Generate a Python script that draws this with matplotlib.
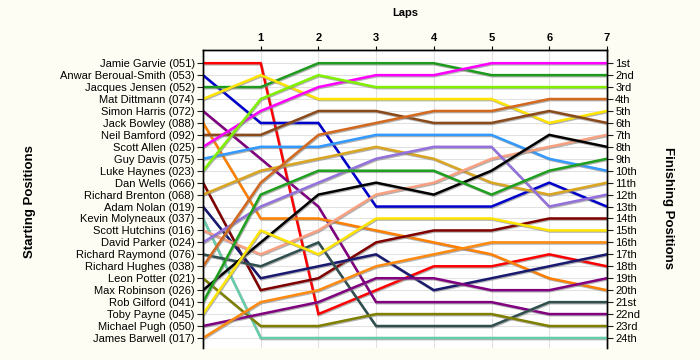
import matplotlib
matplotlib.use("Agg")
import matplotlib.pyplot as plt
import matplotlib.patheffects as pe

plt.rcParams['font.family'] = ['Liberation Sans', 'DejaVu Sans']

laps = [0, 1, 2, 3, 4, 5, 6, 7]
lap_labels = ["1", "2", "3", "4", "5", "6", "7"]

drivers = ["Jamie Garvie (051)", "Anwar Beroual-Smith (053)", "Jacques Jensen (052)",
           "Mat Dittmann (074)", "Simon Harris (072)", "Jack Bowley (088)",
           "Neil Bamford (092)", "Scott Allen (025)", "Guy Davis (075)",
           "Luke Haynes (023)", "Dan Wells (066)", "Richard Brenton (068)",
           "Adam Nolan (019)", "Kevin Molyneaux (037)", "Scott Hutchins (016)",
           "David Parker (024)", "Richard Raymond (076)", "Richard Hughes (038)",
           "Leon Potter (021)", "Max Robinson (026)", "Rob Gilford (041)",
           "Toby Payne (045)", "Michael Pugh (050)", "James Barwell (017)"]

jamie_garvie    = [1, 1, 22, 20, 18, 18, 17, 18]
anwar_beroual   = [2, 6, 6, 13, 13, 13, 11, 13]
jacques_jensen  = [3, 3, 1, 1, 1, 2, 2, 2]
mat_dittmann    = [4, 2, 4, 4, 4, 4, 6, 5]
simon_harris    = [5, 9, 13, 21, 21, 21, 22, 22]
jack_bowley     = [6, 14, 14, 15, 16, 17, 19, 20]
neil_bamford    = [7, 7, 5, 5, 6, 6, 5, 6]
scott_allen     = [8, 5, 3, 2, 2, 1, 1, 1]
guy_davis       = [9, 8, 8, 7, 7, 7, 9, 10]
luke_haynes     = [10, 4, 2, 3, 3, 3, 3, 3]
dan_wells       = [11, 20, 19, 16, 15, 15, 14, 14]
richard_brenton = [12, 10, 9, 8, 9, 11, 12, 11]
adam_nolan      = [13, 19, 18, 17, 20, 19, 18, 17]
kevin_molyneaux = [14, 24, 24, 24, 24, 24, 24, 24]
scott_hutchins  = [15, 17, 15, 12, 11, 9, 8, 7]
david_parker    = [16, 13, 11, 9, 8, 8, 13, 12]
richard_raymond = [17, 18, 16, 23, 23, 23, 21, 21]
richard_hughes  = [18, 11, 7, 6, 5, 5, 4, 4]
leon_potter     = [19, 23, 23, 22, 22, 22, 23, 23]
max_robinson    = [20, 16, 12, 11, 12, 10, 7, 8]
rob_gilford     = [21, 12, 10, 10, 10, 12, 10, 9]
toby_payne      = [22, 15, 17, 14, 14, 14, 15, 15]
michael_pugh    = [23, 22, 21, 19, 19, 20, 20, 19]
james_barwell   = [24, 21, 20, 18, 17, 16, 16, 16]

series = [jamie_garvie, anwar_beroual, jacques_jensen, mat_dittmann, simon_harris,
          jack_bowley, neil_bamford, scott_allen, guy_davis, luke_haynes, dan_wells,
          richard_brenton, adam_nolan, kevin_molyneaux, scott_hutchins, david_parker,
          richard_raymond, richard_hughes, leon_potter, max_robinson, rob_gilford,
          toby_payne, michael_pugh, james_barwell]

colors = ["#FF0000", "#0000CD", "#1E9B1E", "#FFE400", "#800080", "#FF7F00",
          "#8B4A1A", "#FF00FF", "#3399FF", "#80F000", "#800000", "#DAA520",
          "#191970", "#66CDAA", "#F8A080", "#9370DB", "#2F4F4F", "#D2691E",
          "#808000", "#000000", "#1EA01E", "#FFE400", "#800080", "#FF8A10"]

finish_labels = ["1st", "2nd", "3rd"] + [f"{i}th" for i in range(4, 21)] + ["21st", "22nd", "23rd", "24th"]

fig = plt.figure(figsize=(7, 3.6), dpi=100, facecolor="#FDFDF3")
ax = fig.add_axes([0.29, 0.033, 0.577, 0.828])
ax.set_facecolor("#FFFFFF")

for i in range(1, 25):
    ax.axhline(i, color="#E2E2E2", lw=0.8, zorder=0)
for l in range(1, 7):
    ax.axvline(l, color="#E2E2E2", lw=0.8, zorder=0)

shadow = [pe.SimpleLineShadow(offset=(0.6, -0.8), shadow_color="#808080", alpha=0.6),
          pe.Normal()]
for s, c in zip(series, colors):
    ax.plot(laps, s, color=c, lw=1.8, zorder=3, path_effects=shadow,
            solid_joinstyle="miter")

ax.set_xlim(0, 7)
ax.set_ylim(24.85, -0.1)

ax.xaxis.tick_top()
ax.set_xticks(range(1, 8))
ax.set_xticklabels(lap_labels, fontsize=8, fontweight="bold")
ax.xaxis.set_label_position("top")
ax.set_xlabel("Laps", fontsize=8, fontweight="bold", labelpad=12)
ax.tick_params(axis="x", length=3, width=0.8, pad=2)

ax.set_yticks(range(1, 25))
ax.set_yticklabels(drivers, fontsize=8)
ax.tick_params(axis="y", length=4, width=0.8, pad=2, color="#222222")

ax2 = ax.twinx()
ax2.set_ylim(ax.get_ylim())
ax2.set_yticks(range(1, 25))
ax2.set_yticklabels(finish_labels, fontsize=8)
ax2.tick_params(axis="y", length=4, width=0.8, pad=2, color="#222222")

fig.text(30 / 700, 1 - 202 / 360, "Starting Positions", fontsize=9.5, fontweight="bold",
         rotation=90, ha="center", va="center")
fig.text(668 / 700, 1 - 208 / 360, "Finishing Positions", fontsize=9.5, fontweight="bold",
         rotation=-90, ha="center", va="center")

for a in (ax, ax2):
    a.spines["bottom"].set_visible(False)
    for sp in ("left", "right", "top"):
        a.spines[sp].set_linewidth(1.0)
        a.spines[sp].set_color("#000000")

fig.savefig("out.png", dpi=100, facecolor=fig.get_facecolor())
